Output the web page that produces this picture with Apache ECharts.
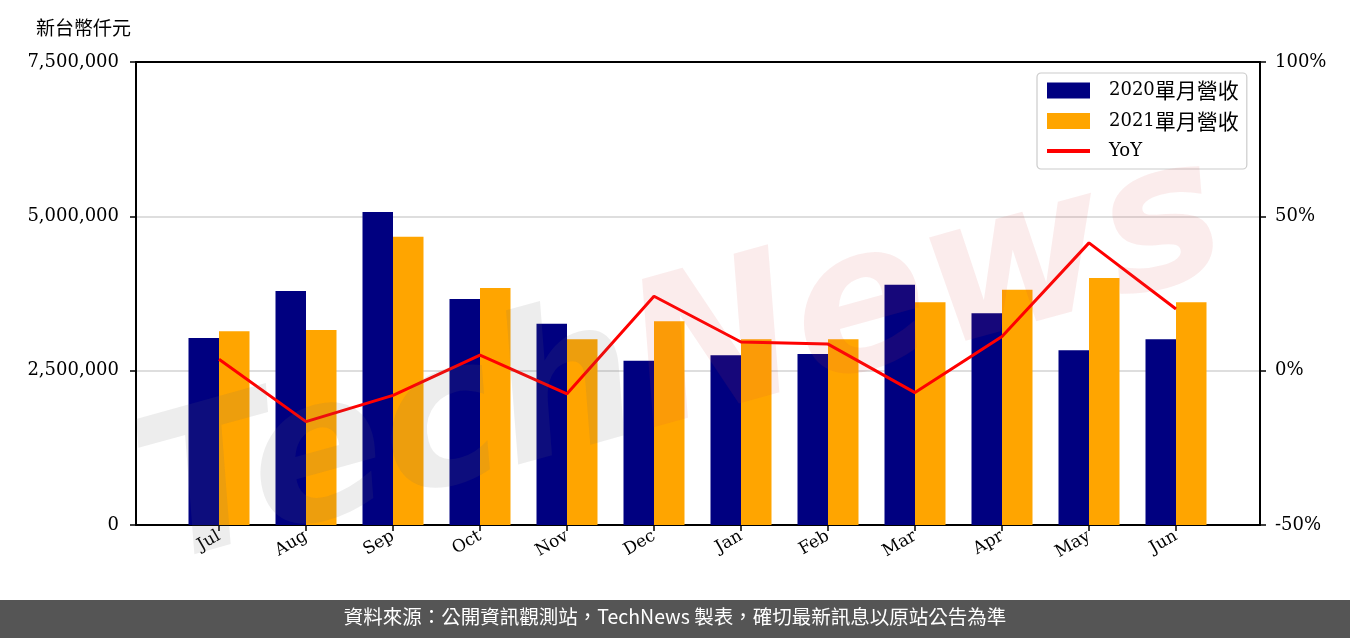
<!DOCTYPE html>
<html>
<head>
<meta charset="utf-8">
<script src="https://cdn.jsdelivr.net/npm/echarts@6/dist/echarts.min.js"></script>
<style>html,body{margin:0;padding:0;background:#fff}#c{width:1350px;height:638px}</style>
</head>
<body>
<div id="c"></div>
<script>
const categories = ['Jul','Aug','Sep','Oct','Nov','Dec','Jan','Feb','Mar','Apr','May','Jun'];
const rev2020 = [3030000,3790000,5070000,3660000,3260000,2660000,2750000,2770000,3890000,3430000,2830000,3010000];
const rev2021 = [3140000,3160000,4670000,3840000,3010000,3300000,3010000,3010000,3610000,3810000,4000000,3610000];
const yoy = [3.7,-16.5,-8.0,5.0,-7.5,24.1,9.3,8.6,-7.1,11.1,41.4,20.0];
const seriesNames = ['2020單月營收','2021單月營收','YoY'];
const unitLabel = '新台幣仟元';
const footerText = '資料來源：公開資訊觀測站，TechNews 製表，確切最新訊息以原站公告為準';

const serif = '"DejaVu Serif", "Noto Sans CJK TC", serif';
const cjk = '"Noto Sans CJK TC", sans-serif';
const frameLine = {show: true, onZero: false, lineStyle: {color: '#000', width: 2}};
const chart = echarts.init(document.getElementById('c'), null, {renderer:'canvas'});
chart.setOption({
  animation: false,
  backgroundColor: '#fff',
  title: {
    text: unitLabel, left: 31, top: 13,
    textStyle: {fontFamily: cjk, fontSize: 19, fontWeight: 'normal', color: '#000'}
  },
  legend: {
    data: [
      {name: seriesNames[0], icon: 'rect'},
      {name: seriesNames[1], icon: 'rect'},
      {name: seriesNames[2], itemStyle: {opacity: 0}, lineStyle: {width: 4, color: '#ff0000'}}
    ],
    orient: 'vertical', left: 1037, top: 73,
    padding: [7, 8, 8, 8],
    itemWidth: 43, itemHeight: 16, itemGap: 9.5,
    backgroundColor: '#fff',
    borderColor: '#cccccc', borderWidth: 1.2, borderRadius: 4,
    formatter: name => {
      const m = name.match(/^(\d+)(.*)$/);
      return m ? '{d|' + m[1] + '}{c|' + m[2] + '}' : '{d|' + name + '}';
    },
    textStyle: {
      padding: [0,0,0,14],
      lineHeight: 20,
      rich: {
        d: {fontFamily: serif, fontSize: 18, color: '#000', lineHeight: 20},
        c: {fontFamily: cjk, fontSize: 21, color: '#000', lineHeight: 20}
      }
    }
  },
  grid: [
    {left: 136, right: 90, top: 62, bottom: 113, show: false},
    {left: 175.5, right: 130.5, top: 62, bottom: 113, show: false}
  ],
  xAxis: [
    {type: 'value', gridIndex: 0, min: 0, max: 1, position: 'bottom', axisLine: frameLine, axisTick: {show: false}, axisLabel: {show: false}, splitLine: {show: false}},
    {type: 'category', gridIndex: 1, data: categories, boundaryGap: true,
     axisLine: {show: false, onZero: false},
     axisTick: {show: true, alignWithLabel: true, length: 6, lineStyle: {color: '#000', width: 1.5}},
     axisLabel: {rotate: 30, margin: 10, fontFamily: serif, fontSize: 17, color: '#000'}},
    {type: 'value', gridIndex: 0, min: 0, max: 1, position: 'top', axisLine: frameLine, axisTick: {show: false}, axisLabel: {show: false}, splitLine: {show: false}}
  ],
  yAxis: [
    {type: 'value', gridIndex: 0, min: 0, max: 7500000, interval: 2500000, position: 'left',
     axisLine: frameLine,
     axisTick: {show: true, length: 6, lineStyle: {color: '#000', width: 1.5}},
     axisLabel: {margin: 17, fontFamily: serif, fontSize: 18, color: '#000',
       formatter: v => v.toLocaleString('en-US')},
     splitLine: {show: true, showMinLine: false, showMaxLine: false, lineStyle: {color: '#d3d3d3', width: 1.5}}},
    {type: 'value', gridIndex: 0, min: -50, max: 100, interval: 50, position: 'right',
     axisLine: frameLine,
     axisTick: {show: true, length: 6, lineStyle: {color: '#000', width: 1.5}},
     axisLabel: {margin: 15, fontFamily: serif, fontSize: 18, color: '#000', formatter: v => v + '%'},
     splitLine: {show: false}},
    {type: 'value', gridIndex: 1, min: 0, max: 7500000, show: false, splitLine: {show: false}},
    {type: 'value', gridIndex: 1, min: -50, max: 100, show: false, splitLine: {show: false}}
  ],
  graphic: [
    {type: 'text', left: 120, top: 120, z: 50, rotation: 0.27, silent: true,
     style: {text: '{a|Tech}{b|News}', rich: {
       a: {fontFamily: '"DejaVu Sans"', fontStyle: 'italic', fontWeight: 'bold', fontSize: 200, fill: 'rgba(110,110,110,0.12)'},
       b: {fontFamily: '"DejaVu Sans"', fontStyle: 'italic', fontWeight: 'bold', fontSize: 200, fill: 'rgba(220,70,70,0.10)'}
     }}},
    {type: 'rect', left: 0, top: 600, z: 100, shape: {width: 1350, height: 38}, style: {fill: '#555555'}},
    {type: 'text', left: 'center', top: 607, z: 101,
     style: {text: footerText, fill: '#fff', fontFamily: cjk, fontSize: 19.5}}
  ],
  series: [
    {name: seriesNames[0], type: 'bar', xAxisIndex: 1, yAxisIndex: 2, data: rev2020, barWidth: 30.5, barGap: '0%', itemStyle: {color: '#000080'}, z: 2},
    {name: seriesNames[1], type: 'bar', xAxisIndex: 1, yAxisIndex: 2, data: rev2021, barWidth: 30.5, barGap: '0%', itemStyle: {color: '#FFA500'}, z: 2},
    {name: seriesNames[2], type: 'line', xAxisIndex: 1, yAxisIndex: 3, data: yoy, symbol: 'none', showSymbol: false,
     lineStyle: {color: '#ff0000', width: 3}, itemStyle: {color: '#ff0000'}, z: 3}
  ]
});
</script>
</body>
</html>
